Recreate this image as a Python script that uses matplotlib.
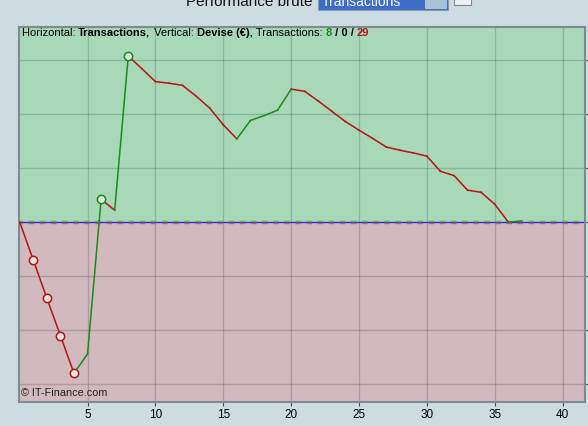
import matplotlib
matplotlib.use('Agg')
import matplotlib.pyplot as plt
import matplotlib.transforms as mtransforms
from matplotlib.font_manager import FontProperties, findfont
from matplotlib.ft2font import FT2Font
from matplotlib.patches import Rectangle

plt.rcParams['font.family'] = ['Liberation Sans', 'DejaVu Sans']

# DATA
trades = list(range(0, 38))
equity = [0.0, -0.70, -1.41, -2.10, -2.80, -2.44, 0.42, 0.22, 3.07, 2.84,
          2.60, 2.57, 2.53, 2.33, 2.11, 1.80, 1.54, 1.88, 1.97, 2.07,
          2.46, 2.42, 2.24, 2.05, 1.86, 1.70, 1.55, 1.39, 1.33, 1.28,
          1.22, 0.94, 0.86, 0.59, 0.55, 0.33, 0.0, 0.02]
low_marks = [1, 2, 3, 4]
high_marks = [6, 8]
x_ticks = [5, 10, 15, 20, 25, 30, 35, 40]
y_grid = [-3, -2, -1, 1, 2, 3]

GREEN = '#1b8a1b'
RED = '#b31515'
BG = '#cddce2'

fig = plt.figure(figsize=(5.88, 4.26), dpi=100, facecolor=BG)
ax = fig.add_axes([19 / 588, 24 / 426, 566 / 588, 375 / 426])
ax.set_xlim(-0.05, 41.65)
ax.set_ylim(-3.33, 3.61)

# shaded zones above / below zero
ax.axhspan(0, 3.61, color='#a9d8b9', zorder=0)
ax.axhspan(-3.33, 0, color='#d1b9be', zorder=0)

for gx in x_ticks:
    ax.axvline(gx, color='black', alpha=0.16, lw=1, zorder=1)
for gy in y_grid:
    ax.axhline(gy, color='black', alpha=0.16, lw=1, zorder=1)

# zero line: blue with green dashes above and red dashes below
ax.axhline(0, color='#2a2ae0', lw=1, zorder=2)
up = ax.transData + mtransforms.ScaledTranslation(0, 1.4 / 100, fig.dpi_scale_trans)
dn = ax.transData + mtransforms.ScaledTranslation(0, -1.4 / 100, fig.dpi_scale_trans)
ax.plot([-1, 43], [0, 0], transform=up, color='#4cb85a', lw=1, dashes=(4, 4), zorder=2.5)
ax.plot([-1, 43], [0, 0], transform=dn, color='#cc5080', lw=1, dashes=(4, 4), zorder=2.5)

# equity curve, each segment coloured by direction
for i in range(len(trades) - 1):
    c = GREEN if equity[i + 1] > equity[i] else RED
    ax.plot(trades[i:i + 2], equity[i:i + 2], color=c, lw=1.1, zorder=3)

ax.plot([trades[i] for i in low_marks], [equity[i] for i in low_marks], 'o', ms=6,
        mfc='#dfe6e6', mec=RED, mew=1.1, ls='none', zorder=4)
ax.plot([trades[i] for i in high_marks], [equity[i] for i in high_marks], 'o', ms=6,
        mfc='#dfe6e6', mec=GREEN, mew=1.1, ls='none', zorder=4)

ax.set_xticks(x_ticks)
ax.set_yticks(y_grid + [0])
ax.tick_params(axis='x', direction='out', length=3, labelsize=8.5, pad=2, colors='#555555', labelcolor='black')
ax.tick_params(axis='y', left=False, labelleft=False, right=True, direction='out', length=3, colors='#555555')
for s in ax.spines.values():
    s.set_color('#7d8c8c')
    s.set_linewidth(1.5)

# header built from pieces, placed one after another using glyph advances
parts = [('Horizontal: ', 'normal', 'black'), ('Transactions,', 'bold', 'black'),
         (' Vertical: ', 'normal', 'black'), ('Devise (€),', 'bold', 'black'),
         (' Transactions: ', 'normal', 'black'), ('8', 'bold', GREEN),
         (' / 0 / ', 'bold', 'black'), ('29', 'bold', RED)]
HEAD_SIZE = 8


def advance(s, prop):
    font = FT2Font(findfont(prop))
    font.set_size(prop.get_size_in_points(), fig.dpi)
    return sum(font.load_char(ord(ch)).linearHoriAdvance / 65536 for ch in s)


xpix = 22
for s, w, c in parts:
    prop = FontProperties(family='Liberation Sans', size=HEAD_SIZE, weight=w)
    # baseline a bit off the pixel grid so every piece rounds the same way
    fig.text(xpix / 588, 1 - 35.7 / 426, s, fontproperties=prop, color=c,
             ha='left', va='baseline')
    xpix += advance(s, prop)

ax.text(0.003, 0.012, '© IT-Finance.com', transform=ax.transAxes, fontsize=7.8,
        va='bottom', ha='left', color='#222222')

# page header (cut by the top edge)
fig.text(312 / 588, 1 - 6 / 426, 'Performance brute', fontsize=11, ha='right',
         va='baseline', color='#111111')
fig.patches.append(Rectangle((318 / 588, 1 - 10 / 426), 130 / 588, 14 / 426,
                             transform=fig.transFigure, fc='#3a6cc8', ec='#8a9aa8', lw=0.8))
fig.patches.append(Rectangle((425 / 588, 1 - 9 / 426), 22 / 588, 12 / 426,
                             transform=fig.transFigure, fc='#a8c2d4', ec='none'))
fig.text(322 / 588, 1 - 6 / 426, 'Transactions', fontsize=10, ha='left',
         va='baseline', color='white')
fig.patches.append(Rectangle((454 / 588, 1 - 5 / 426), 17 / 588, 10 / 426,
                             transform=fig.transFigure, fc='#eef2f4', ec='#7f8a90', lw=0.8))

fig.savefig('out.png', dpi=100, facecolor=BG)
